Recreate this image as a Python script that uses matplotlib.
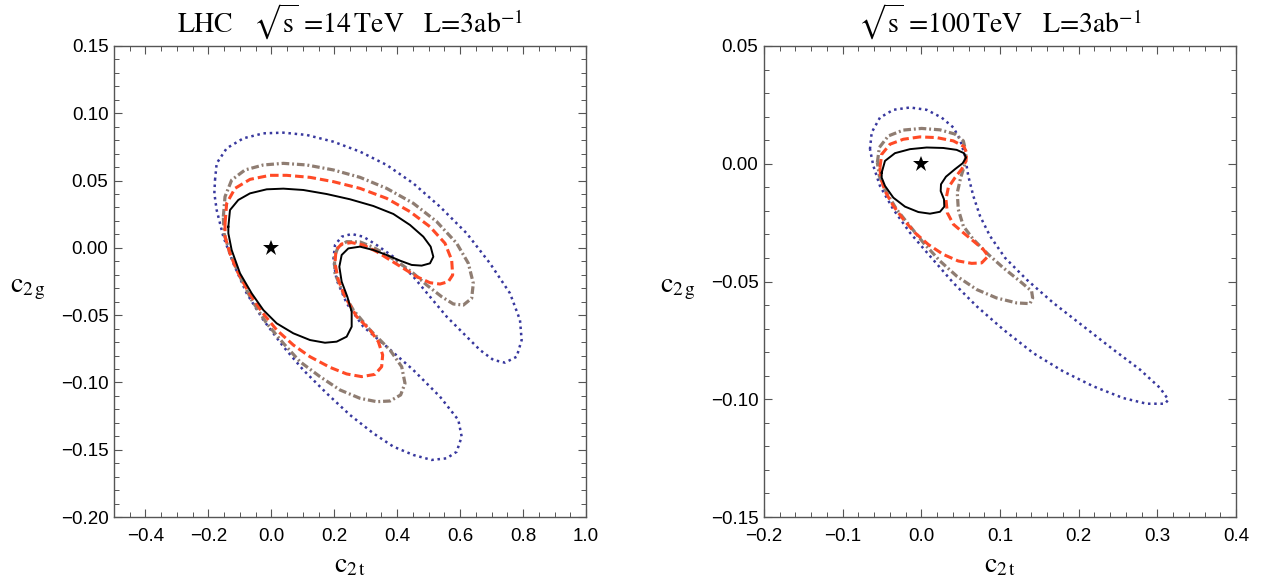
import numpy as np
import matplotlib
matplotlib.use("Agg")
import matplotlib.pyplot as plt
from matplotlib.ticker import MultipleLocator

# contours, (c2t, c2g)
# LHC 14 TeV
lhc_solid_x = [-0.1366, -0.1314, -0.1049, -0.0678, -0.0148, 0.0382, 0.1017, 0.1759, 0.2500, 0.3242,
               0.3877, 0.4407, 0.4830, 0.5063, 0.5148, 0.5042, 0.4778, 0.4460, 0.4089, 0.3665,
               0.3242, 0.2818, 0.2447, 0.2235, 0.2161, 0.2235, 0.2415, 0.2553, 0.2553, 0.2394,
               0.2076, 0.1705, 0.1229, 0.0699, 0.0170, -0.0254, -0.0625, -0.0996, -0.1261, -0.1366]
lhc_solid_y = [0.0157, 0.0281, 0.0356, 0.0405, 0.0435, 0.0440, 0.0430, 0.0400, 0.0361, 0.0311,
               0.0252, 0.0170, 0.0083, 0.0009, -0.0066, -0.0115, -0.0132, -0.0127, -0.0095, -0.0053,
               -0.0016, 0.0009, -0.0004, -0.0053, -0.0140, -0.0251, -0.0363, -0.0474, -0.0586, -0.0660,
               -0.0697, -0.0705, -0.0685, -0.0635, -0.0561, -0.0462, -0.0338, -0.0189, -0.0016, 0.0108]

lhc_dash_x = [-0.1472, -0.1419, -0.1155, -0.0678, -0.0042, 0.0487, 0.1229, 0.1970, 0.2818, 0.3665,
              0.4407, 0.5042, 0.5519, 0.5731, 0.5763, 0.5625, 0.5360, 0.5042, 0.4619, 0.4195,
              0.3771, 0.3347, 0.2924, 0.2553, 0.2235, 0.2055, 0.2023, 0.2129, 0.2341, 0.2712,
              0.3136, 0.3400, 0.3538, 0.3506, 0.3294, 0.2871, 0.2394, 0.1864, 0.1229, 0.0699,
              0.0170, -0.0307, -0.0731, -0.1102, -0.1314, -0.1472]
lhc_dash_y = [0.0182, 0.0331, 0.0442, 0.0509, 0.0539, 0.0539, 0.0524, 0.0492, 0.0442, 0.0368,
              0.0269, 0.0157, 0.0034, -0.0090, -0.0202, -0.0251, -0.0269, -0.0259, -0.0214, -0.0152,
              -0.0090, -0.0028, 0.0021, 0.0039, 0.0029, -0.0016, -0.0115, -0.0239, -0.0363, -0.0511,
              -0.0610, -0.0697, -0.0796, -0.0883, -0.0940, -0.0957, -0.0937, -0.0888, -0.0809, -0.0722,
              -0.0610, -0.0474, -0.0326, -0.0165, -0.0041, 0.0083]

lhc_dashdot_x = [-0.1525, -0.1472, -0.1261, -0.0837, -0.0254, 0.0382, 0.1123, 0.1970, 0.2818, 0.3665,
                 0.4513, 0.5254, 0.5890, 0.6261, 0.6419, 0.6366, 0.6102, 0.5784, 0.5413, 0.4936,
                 0.4513, 0.4089, 0.3665, 0.3242, 0.2818, 0.2394, 0.2129, 0.2002, 0.2023, 0.2235,
                 0.2606, 0.3136, 0.3771, 0.4142, 0.4248, 0.4110, 0.3771, 0.3347, 0.2818, 0.2182,
                 0.1546, 0.0911, 0.0382, -0.0148, -0.0625, -0.0996, -0.1314, -0.1504]
lhc_dashdot_y = [0.0232, 0.0380, 0.0504, 0.0579, 0.0616, 0.0628, 0.0616, 0.0579, 0.0524, 0.0442,
                 0.0331, 0.0195, 0.0034, -0.0115, -0.0264, -0.0375, -0.0425, -0.0417, -0.0363, -0.0276,
                 -0.0189, -0.0115, -0.0053, 0.0004, 0.0044, 0.0046, 0.0009, -0.0066, -0.0189, -0.0313,
                 -0.0462, -0.0610, -0.0759, -0.0883, -0.1007, -0.1093, -0.1138, -0.1143, -0.1118, -0.1056,
                 -0.0957, -0.0846, -0.0709, -0.0561, -0.0388, -0.0214, -0.0041, 0.0108]

lhc_dot_x = [-0.1790, -0.1737, -0.1419, -0.0890, -0.0254, 0.0382, 0.1123, 0.1970, 0.2818, 0.3665,
             0.4513, 0.5360, 0.6208, 0.6949, 0.7585, 0.7902, 0.7955, 0.7797, 0.7426, 0.7055,
             0.6631, 0.6102, 0.5572, 0.5042, 0.4513, 0.3877, 0.3347, 0.2924, 0.2553, 0.2235,
             0.2023, 0.1970, 0.2076, 0.2394, 0.2924, 0.3665, 0.4513, 0.5360, 0.5943, 0.6049,
             0.5890, 0.5572, 0.5095, 0.4513, 0.3877, 0.3242, 0.2500, 0.1759, 0.1017, 0.0382,
             -0.0254, -0.0784, -0.1208, -0.1525, -0.1737, -0.1811]
lhc_dot_y = [0.0504, 0.0628, 0.0740, 0.0814, 0.0851, 0.0856, 0.0839, 0.0789, 0.0715, 0.0616,
             0.0479, 0.0306, 0.0108, -0.0115, -0.0338, -0.0536, -0.0685, -0.0809, -0.0853, -0.0833,
             -0.0759, -0.0635, -0.0511, -0.0363, -0.0214, -0.0066, 0.0021, 0.0083, 0.0103, 0.0083,
             0.0021, -0.0090, -0.0239, -0.0412, -0.0586, -0.0734, -0.0908, -0.1106, -0.1279, -0.1403,
             -0.1515, -0.1564, -0.1576, -0.1539, -0.1477, -0.1378, -0.1242, -0.1081, -0.0908, -0.0734,
             -0.0536, -0.0338, -0.0115, 0.0083, 0.0281, 0.0405]

# 100 TeV
fcc_solid_x = [-0.0504, -0.0462, -0.0335, -0.0144, 0.0068, 0.0279, 0.0449, 0.0542, 0.0568, 0.0525,
               0.0428, 0.0313, 0.0250, 0.0246, 0.0288, 0.0292, 0.0237, 0.0110, -0.0038, -0.0208,
               -0.0356, -0.0462, -0.0504]
fcc_solid_y = [-0.0038, 0.0012, 0.0045, 0.0062, 0.0069, 0.0067, 0.0059, 0.0045, 0.0026, 0.0002,
               -0.0023, -0.0055, -0.0087, -0.0116, -0.0151, -0.0182, -0.0204, -0.0212, -0.0205, -0.0182,
               -0.0144, -0.0094, -0.0059]

fcc_dash_x = [-0.0526, -0.0504, -0.0398, -0.0229, -0.0017, 0.0195, 0.0407, 0.0542, 0.0576, 0.0568,
              0.0513, 0.0428, 0.0343, 0.0313, 0.0330, 0.0407, 0.0534, 0.0661, 0.0788, 0.0851,
              0.0767, 0.0640, 0.0470, 0.0279, 0.0089, -0.0081, -0.0229, -0.0356, -0.0462, -0.0517]
fcc_dash_y = [-0.0016, 0.0040, 0.0083, 0.0104, 0.0114, 0.0111, 0.0097, 0.0073, 0.0045, 0.0012,
              -0.0023, -0.0059, -0.0101, -0.0151, -0.0208, -0.0257, -0.0293, -0.0328, -0.0364, -0.0392,
              -0.0421, -0.0423, -0.0413, -0.0385, -0.0343, -0.0293, -0.0236, -0.0179, -0.0116, -0.0059]

fcc_dashdot_x = [-0.0559, -0.0534, -0.0420, -0.0229, 0.0004, 0.0237, 0.0428, 0.0534, 0.0568, 0.0555,
                 0.0500, 0.0457, 0.0470, 0.0534, 0.0661, 0.0851, 0.1042, 0.1254, 0.1402, 0.1415,
                 0.1381, 0.1212, 0.0957, 0.0703, 0.0449, 0.0237, 0.0025, -0.0144, -0.0314, -0.0441,
                 -0.0534]
fcc_dashdot_y = [0.0005, 0.0069, 0.0118, 0.0143, 0.0150, 0.0144, 0.0126, 0.0097, 0.0048, -0.0002,
                 -0.0059, -0.0123, -0.0194, -0.0265, -0.0321, -0.0385, -0.0442, -0.0499, -0.0541, -0.0570,
                 -0.0594, -0.0591, -0.0570, -0.0534, -0.0477, -0.0413, -0.0335, -0.0265, -0.0194, -0.0123,
                 -0.0052]

fcc_dot_x = [-0.0653, -0.0631, -0.0526, -0.0356, -0.0144, 0.0068, 0.0258, 0.0407, 0.0491, 0.0555,
             0.0597, 0.0661, 0.0746, 0.0873, 0.1063, 0.1339, 0.1678, 0.2059, 0.2440, 0.2779,
             0.3034, 0.3140, 0.3097, 0.2864, 0.2567, 0.2186, 0.1805, 0.1423, 0.1042, 0.0703,
             0.0407, 0.0110, -0.0144, -0.0356, -0.0526, -0.0610]
fcc_dot_y = [0.0062, 0.0133, 0.0196, 0.0229, 0.0239, 0.0229, 0.0196, 0.0154, 0.0104, 0.0033,
             -0.0052, -0.0137, -0.0222, -0.0307, -0.0399, -0.0492, -0.0591, -0.0690, -0.0789, -0.0874,
             -0.0952, -0.1002, -0.1019, -0.1019, -0.0995, -0.0945, -0.0882, -0.0804, -0.0704, -0.0605,
             -0.0506, -0.0392, -0.0293, -0.0194, -0.0094, -0.0009]

sm_point = (0.0, 0.0)

plt.rcParams["mathtext.fontset"] = "stix"
plt.rcParams["font.family"] = "Liberation Sans"

BLUE = "#38389e"
RED = "#ff4a26"
BROWN = "#8f7d72"
FRAME = "#555555"


def closed(x, y):
    return np.append(x, x[0]), np.append(y, y[0])


def draw_panel(ax, curves, xlim, ylim, xmaj, xmin, ymaj, ymin, title):
    dot, dashdot, dash, solid = curves
    ax.plot(*closed(*dot), color=BLUE, lw=1.8, linestyle=(0, (1.0, 1.5)))
    ax.plot(*closed(*dashdot), color=BROWN, lw=2.3, linestyle=(0, (2.4, 0.9, 0.6, 0.9)))
    ax.plot(*closed(*dash), color=RED, lw=2.2, linestyle=(0, (2.8, 1.3)))
    ax.plot(*closed(*solid), color="black", lw=1.4)
    ax.plot(*sm_point, marker="*", color="black", ms=12, mew=0)

    ax.set_xlim(*xlim)
    ax.set_ylim(*ylim)
    ax.xaxis.set_major_locator(MultipleLocator(xmaj))
    ax.xaxis.set_minor_locator(MultipleLocator(xmin))
    ax.yaxis.set_major_locator(MultipleLocator(ymaj))
    ax.yaxis.set_minor_locator(MultipleLocator(ymin))
    ax.xaxis.set_major_formatter(lambda v, p: f"{v:.1f}".replace("-", "\u2212"))
    ax.yaxis.set_major_formatter(lambda v, p: f"{v:.2f}".replace("-", "\u2212"))
    ax.tick_params(which="both", direction="in", top=True, right=True, color=FRAME,
                   labelsize=13.5, pad=4)
    ax.tick_params(axis="x", which="major", pad=8)
    ax.tick_params(which="major", length=6, width=0.8)
    ax.tick_params(which="minor", length=3.5, width=0.7)
    for sp in ax.spines.values():
        sp.set_color(FRAME)
        sp.set_linewidth(1.0)

    ax.set_xlabel(r"$\mathrm{c}_{2\,\mathrm{t}}$", fontsize=20, va="baseline")
    ax.xaxis.set_label_coords(0.5, -0.118)
    ax.set_ylabel(r"$\mathrm{c}_{2\,\mathrm{g}}$", fontsize=20, rotation=0, va="center", ha="center")
    ax.yaxis.set_label_coords(-0.182, 0.485)
    ax.text(0.5, 1.052, title, transform=ax.transAxes, ha="center", va="center",
            fontsize=20, family="STIXGeneral")


fig = plt.figure(figsize=(12.63, 5.88), dpi=100)
ax1 = fig.add_axes([114 / 1263, 71 / 588, 472 / 1263, 471 / 588])
ax2 = fig.add_axes([764 / 1263, 71 / 588, 472 / 1263, 471 / 588])

draw_panel(ax1,
           [(lhc_dot_x, lhc_dot_y), (lhc_dashdot_x, lhc_dashdot_y),
            (lhc_dash_x, lhc_dash_y), (lhc_solid_x, lhc_solid_y)],
           (-0.5, 1.0), (-0.2, 0.15), 0.2, 0.05, 0.05, 0.01,
           r"LHC   $\sqrt{\mathrm{s}}$ =14$\,$TeV   L=3ab$^{-1}$")
draw_panel(ax2,
           [(fcc_dot_x, fcc_dot_y), (fcc_dashdot_x, fcc_dashdot_y),
            (fcc_dash_x, fcc_dash_y), (fcc_solid_x, fcc_solid_y)],
           (-0.2, 0.4), (-0.15, 0.05), 0.1, 0.02, 0.05, 0.01,
           r"$\sqrt{\mathrm{s}}$ =100$\,$TeV   L=3ab$^{-1}$")

fig.savefig("out.png", dpi=100)
